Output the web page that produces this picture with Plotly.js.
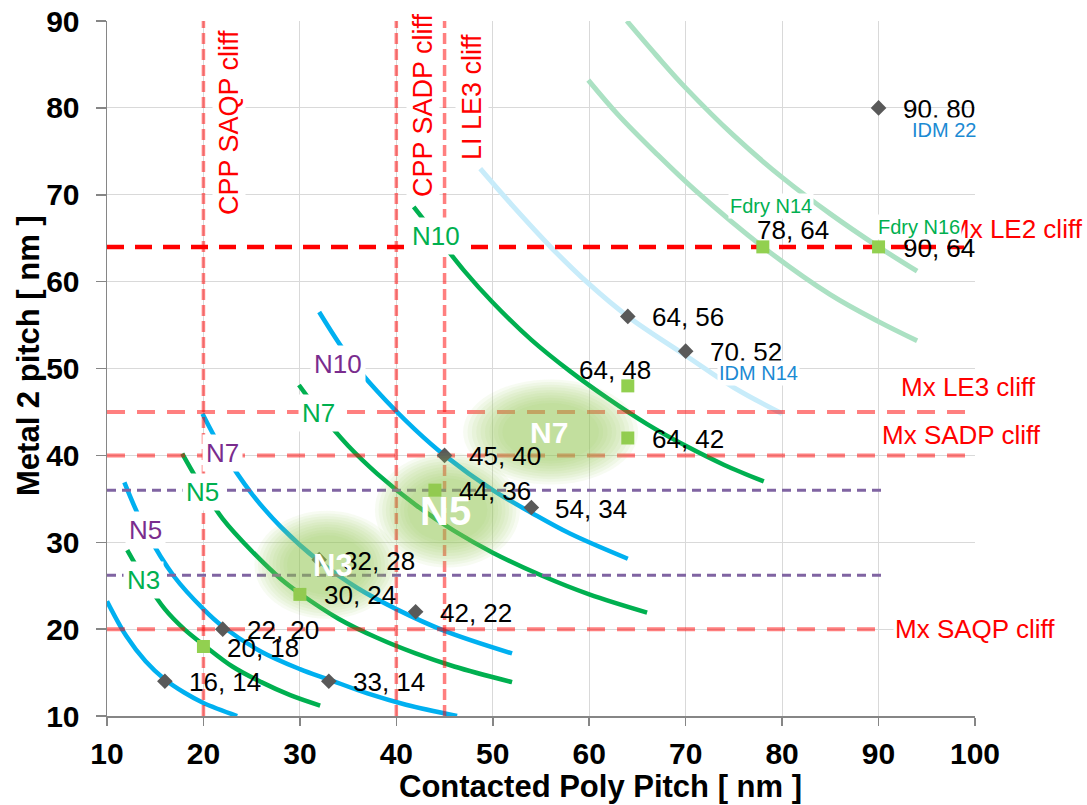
<!DOCTYPE html>
<html><head><meta charset="utf-8">
<script src="https://cdn.plot.ly/plotly-3.0.1.min.js"></script>
<style>html,body{margin:0;padding:0;background:#fff}#chart{width:1087px;height:805px}</style>
</head><body><div id="chart"></div>
<script>
// ---------------- DATA ----------------
// IDM (grey diamond) points
const idmX = [90, 64, 70, 45, 54, 42, 22, 16, 33, 32];
const idmY = [80, 56, 52, 40, 34, 22, 20, 14, 14, 28];
const idmNote = ["IDM 22", "", "IDM N14", "", "", "", "", "", "", ""];
// Foundry (green square) points
const fdryX = [78, 90, 64, 64, 44, 30, 20];
const fdryY = [64, 64, 48, 42, 36, 24, 18];
const fdryNote = ["Fdry N14", "Fdry N16", "", "", "", "", ""];

// Iso-area curves
const idmN3X = [10, 12, 14, 16, 18, 20, 23.5];
const idmN3Y = [23.2, 19.2, 16.3, 14.2, 12.7, 11.5, 10];
const idmN5X = [11.8, 14, 17, 20, 22, 26, 30, 33, 37, 41, 46.3];
const idmN5Y = [36.9, 31.4, 26.0, 22.3, 20.3, 17.4, 15.4, 14.2, 12.6, 11.3, 10];
const idmN7X = [19.9, 22, 25, 28, 32, 36, 40, 45, 52];
const idmN7Y = [44.8, 40.5, 35.6, 31.8, 27.8, 24.7, 22.3, 19.8, 17.2];
const idmN10X = [32, 35, 38, 42, 45, 50, 54, 58, 64];
const idmN10Y = [56.5, 51.4, 47.4, 42.9, 40, 36, 33.4, 31.0, 28.1];
const fdN3X = [12.1, 14, 16, 18, 20, 23, 26, 29, 32.1];
const fdN3Y = [29.1, 25.5, 22.3, 20.0, 18.2, 15.7, 13.9, 12.4, 11.2];
const fdN5X = [17.8, 20, 22, 25, 28, 30, 34, 38, 42, 46, 52];
const fdN5Y = [40.2, 36.0, 32.7, 29.0, 25.8, 24.1, 21.2, 19.0, 17.2, 15.7, 13.9];
const fdN7X = [29.9, 32, 35, 38, 42, 46, 50, 55, 60, 66];
const fdN7Y = [48.1, 45.0, 41.1, 37.9, 34.3, 31.3, 28.8, 26.2, 24.0, 21.9];
const fdN10X = [41.8, 44, 47, 50, 54, 58, 62, 66, 70, 74, 78.1];
const fdN10Y = [68.6, 65.5, 61.3, 57.6, 53.3, 49.7, 46.5, 43.6, 41.1, 38.9, 37.0];
const idmN14X = [48.7, 52, 56, 60, 64, 70, 75, 80];
const idmN14Y = [73.0, 68.8, 64.0, 59.7, 56.0, 51.5, 47.8, 44.8];
const fdryN14X = [59.9, 63, 67, 71, 78, 85, 90, 94];
const fdryN14Y = [83.2, 79.2, 74.7, 70.5, 64.0, 58.5, 55.4, 53.2];
const fdryN16X = [63.9, 67, 70, 75, 80, 85, 90, 94];
const fdryN16Y = [90, 86, 82.3, 76.8, 72, 67.8, 64, 61.2];

// Cliffs
const vCliffX = [20, 40, 45];
const vCliffNames = ["CPP SAQP cliff", "CPP SADP cliff", "LI LE3 cliff"];
const hCliffY = [64, 45, 40, 20];
const hCliffEnd = [100, 99, 100, 90.5];
const hCliffNames = ["Mx LE2 cliff", "Mx LE3 cliff", "Mx SADP cliff", "Mx SAQP cliff"];
const euvY = [36, 26.2];
const euvEnd = [90.5, 90.5];
const euvNames = ["EUV 2D…", "EUV 1D SE…"];

// Node bubbles
const blobNames = ["N7", "N5", "N3"];
const blobX = [56.0, 45.3, 32.8];
const blobY = [42.7, 33.7, 27.4];

// ---------------- STYLE / LAYOUT ----------------
const FONT = "Liberation Sans, Arial, sans-serif";
const ML = 107, MR = 112, MT = 21, MB = 89, W = 1087, H = 805;
const PX = (W - ML - MR) / 90, PY = (H - MT - MB) / 80;
const ax = px => 10 + (px - ML) / PX;
const ay = py => 10 + (H - MB - py) / PY;

const BLUE = "#00B0F0", GREEN = "#00B050", PURPLE = "#7A2C8E";
const LRED = "rgba(255,0,0,0.5)", EUV = "#8064A2";

const traces = [];
const annotations = [];
const shapes = [];

// light curves
[[idmN14X, idmN14Y, "#C8ECFA"], [fdryN14X, fdryN14Y, "#ABE1C3"], [fdryN16X, fdryN16Y, "#ABE1C3"]].forEach(c => {
  traces.push({x: c[0], y: c[1], mode: "lines", line: {color: c[2], width: 5, shape: "spline"}, hoverinfo: "skip"});
});

// main curves with labels (label shift in px from first point: dx right, dy down)
const mainCurves = [
  {x: idmN3X, y: idmN3Y, c: BLUE},
  {x: idmN5X, y: idmN5Y, c: BLUE, lab: "N5", lc: PURPLE, dx: 21, dy: 48},
  {x: idmN7X, y: idmN7Y, c: BLUE, lab: "N7", lc: PURPLE, dx: 20, dy: 39},
  {x: idmN10X, y: idmN10Y, c: BLUE, lab: "N10", lc: PURPLE, dx: 19, dy: 52},
  {x: fdN3X, y: fdN3Y, c: GREEN, lab: "N3", lc: GREEN, dx: 16, dy: 30},
  {x: fdN5X, y: fdN5Y, c: GREEN, lab: "N5", lc: GREEN, dx: 20, dy: 38},
  {x: fdN7X, y: fdN7Y, c: GREEN, lab: "N7", lc: GREEN, dx: 20, dy: 28},
  {x: fdN10X, y: fdN10Y, c: GREEN, lab: "N10", lc: GREEN, dx: 22, dy: 29}
];
mainCurves.forEach(c => {
  traces.push({x: c.x, y: c.y, mode: "lines", line: {color: c.c, width: 4.5, shape: "spline"}, hoverinfo: "skip"});
});

// vertical cliffs
vCliffX.forEach(v => {
  traces.push({x: [v, v], y: [10, 90], mode: "lines", line: {color: LRED, width: 3.5, dash: "11px,5px"}, hoverinfo: "skip"});
});
// horizontal cliffs
hCliffY.forEach((v, i) => {
  const strong = i === 0;
  traces.push({x: [10, hCliffEnd[i]], y: [v, v], mode: "lines",
    line: {color: strong ? "#FF0000" : LRED, width: strong ? 4.5 : 4, dash: strong ? "17px,11px" : "18px,12px"}, hoverinfo: "skip"});
});
euvY.forEach((v, i) => {
  traces.push({x: [10, euvEnd[i]], y: [v, v], mode: "lines", line: {color: EUV, width: 3, dash: "9px,6px"}, hoverinfo: "skip"});
});

// markers
traces.push({x: idmX, y: idmY, mode: "markers", marker: {symbol: "diamond", size: 12, color: "#595959"}, hoverinfo: "skip"});
traces.push({x: fdryX, y: fdryY, mode: "markers", marker: {symbol: "square", size: 13, color: "#92D050"}, hoverinfo: "skip"});

// blobs (soft ellipses)
const blobSize = [[175, 105], [145, 115], [145, 108]];
blobNames.forEach((n, i) => {
  const steps = 10;
  for (let k = 0; k < steps; k++) {
    const s = 1 - k * 0.05;
    const hw = blobSize[i][0] * s / 2 / PX, hh = blobSize[i][1] * s / 2 / PY;
    shapes.push({type: "circle", xref: "x", yref: "y", layer: "above",
      x0: blobX[i] - hw, x1: blobX[i] + hw, y0: blobY[i] - hh, y1: blobY[i] + hh,
      fillcolor: "rgba(146,208,80,0.075)", line: {width: 0}});
  }
});

// helpers
function ann(o) {
  annotations.push(Object.assign({showarrow: false, xref: "x", yref: "y",
    font: {family: FONT, size: 26, color: "#000"}, xanchor: "center", yanchor: "middle"}, o));
}

// horizontal cliff labels (right side)
const hLabPos = [[946, 229, "left"], [968, 387, "center"], [961, 435, "center"], [975, 629, "center"]];
hCliffNames.forEach((n, i) => {
  ann({x: ax(hLabPos[i][0]), y: ay(hLabPos[i][1]), xanchor: hLabPos[i][2], text: n,
    font: {family: FONT, size: 26, color: "#FF0000"}, bgcolor: "#fff", borderpad: 1});
});
const euvLabPos = [[984, 481], [989, 572]];
euvNames.forEach((n, i) => {
  ann({x: ax(euvLabPos[i][0]), y: ay(euvLabPos[i][1]), text: n,
    font: {family: FONT, size: 26, color: EUV}, bgcolor: "#fff", borderpad: 1});
});
// vertical cliff labels
const vLabPos = [[229, 123], [423, 105], [472, 97]];
vCliffNames.forEach((n, i) => {
  ann({x: ax(vLabPos[i][0]), y: ay(vLabPos[i][1]), text: n, textangle: -90,
    font: {family: FONT, size: 27, color: "#FF0000"}, bgcolor: "#fff", borderpad: 1});
});

// curve labels
mainCurves.forEach(c => {
  if (!c.lab) return;
  ann({x: c.x[0], y: c.y[0], xshift: c.dx, yshift: -c.dy, text: c.lab,
    font: {family: FONT, size: 26, color: c.lc}, bgcolor: "#fff", borderpad: 3});
});

// point labels (default: right of marker)
idmX.forEach((x, i) => {
  ann({x: x, y: idmY[i], xanchor: "left", xshift: 22, yshift: -1, text: x + ", " + idmY[i]});
});
const fdryPlace = {0: {xanchor: "center", xshift: 30, yshift: 17}, 2: {xanchor: "center", xshift: -13, yshift: 16}};
fdryX.forEach((x, i) => {
  const p = fdryPlace[i] || {xanchor: "left", xshift: 22, yshift: -1};
  ann(Object.assign({x: x, y: fdryY[i], text: x + ", " + fdryY[i]}, p));
});
// sub-notes
idmNote.forEach((n, i) => {
  if (!n) return;
  ann({x: idmX[i], y: idmY[i], xanchor: "left", xshift: 31, yshift: -22, text: n,
    font: {family: FONT, size: 20, color: "#1B8AD3"}, bgcolor: "#fff", borderpad: 1});
});
const fdryNotePlace = {0: [8, 41], 1: [40, 20]};
fdryNote.forEach((n, i) => {
  if (!n) return;
  ann({x: fdryX[i], y: fdryY[i], xshift: fdryNotePlace[i][0], yshift: fdryNotePlace[i][1], text: n,
    font: {family: FONT, size: 20, color: GREEN}, bgcolor: "#fff", borderpad: 1});
});

// blob labels
const blobFont = [30, 40, 31];
blobNames.forEach((n, i) => {
  ann({x: blobX[i], y: blobY[i], text: "<b>" + n + "</b>", xshift: i === 2 ? 6 : -2, yshift: -1,
    font: {family: FONT, size: blobFont[i], color: "#fff"}});
});

// axis titles
annotations.push({xref: "paper", yref: "paper", x: (600 - ML) / (W - ML - MR), y: -(786 - (H - MB)) / (H - MT - MB),
  text: "<b>Contacted Poly Pitch [ nm ]</b>", showarrow: false, xanchor: "center", yanchor: "middle",
  font: {family: FONT, size: 31, color: "#000"}});
annotations.push({xref: "paper", yref: "paper", x: (28 - ML) / (W - ML - MR), y: ((H - MB) - 356) / (H - MT - MB),
  text: "<b>Metal 2 pitch [ nm ]</b>", showarrow: false, textangle: -90, xanchor: "center", yanchor: "middle",
  font: {family: FONT, size: 31, color: "#000"}});

const axisCommon = {
  showgrid: true, gridcolor: "#D9D9D9", gridwidth: 1, zeroline: false,
  showline: true, linecolor: "#868686", linewidth: 1.5,
  ticks: "outside", tickcolor: "#868686", tickwidth: 1.5, dtick: 10,
  tickfont: {family: FONT, size: 30, color: "#000", weight: "bold"}
};
const layout = {
  width: W, height: H, margin: {l: ML, r: MR, t: MT, b: MB},
  paper_bgcolor: "#fff", plot_bgcolor: "#fff", showlegend: false,
  xaxis: Object.assign({}, axisCommon, {range: [10, 100], ticklen: 8, ticklabelstandoff: 2}),
  yaxis: Object.assign({}, axisCommon, {range: [10, 90], ticklen: 10, ticklabelstandoff: 10}),
  annotations: annotations, shapes: shapes
};
Plotly.newPlot("chart", traces, layout, {displayModeBar: false, staticPlot: true});
</script></body></html>
